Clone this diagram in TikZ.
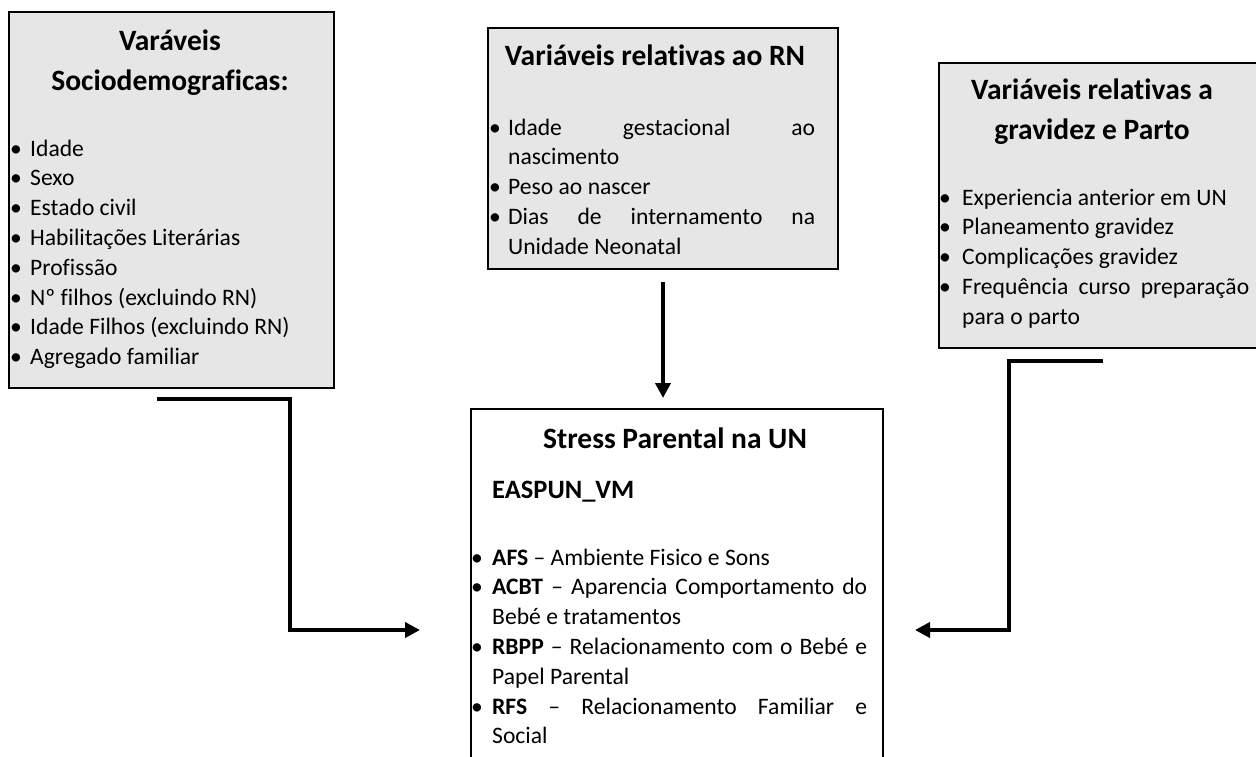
\documentclass[tikz,border=0pt]{standalone}
\usepackage{fontspec}
\setmainfont{Carlito}[Ligatures=NoCommon]
\usepackage{enumitem}
\usetikzlibrary{arrows.meta}
\definecolor{boxgray}{RGB}{230,230,230}
\hyphenpenalty=10000
\exhyphenpenalty=10000
\tolerance=9999
\setlist[itemize]{label=\textbullet, leftmargin=20pt, labelwidth=20pt, labelsep=0pt, align=left, nosep}
\tikzset{
  box/.style     = { draw, line width=2pt, anchor=north west, inner sep=0pt },
  shaded/.style  = { box, fill=boxgray },
  heading/.style = { font=\fontsize{29.5}{40}\selectfont\bfseries, align=center, inner sep=0pt },
  items/.style   = { font=\fontsize{23.6}{29.8}\selectfont, anchor=north west, inner sep=0pt,
                     align=justify, text width=#1 }
}
\tikzset{flow/.style = { line width=4pt, -{Triangle[length=15pt,width=15pt]} }}

\begin{document}
\begin{tikzpicture}[x=1pt,y=-1pt]
    \useasboundingbox (0,0) rectangle (1256,756);

    % boxes
    \node[shaded, minimum width=325pt, minimum height=376pt] (socio) at (8,11)   {};
    \node[shaded, minimum width=350pt, minimum height=241pt] (rn)    at (487,27) {};
    \node[shaded, minimum width=322pt, minimum height=285pt] (parto) at (938,62) {};
    \node[box,    minimum width=412pt, minimum height=362pt] (stress) at (470,408) {};

    % headings
    \node[heading] (sociohead)  at (170,63)  {Varáveis\\Sociodemograficas:};
    \node[heading] (rnhead)     at (655,55)  {Variáveis relativas ao RN};
    \node[heading] (partohead)  at (1092,112) {Variáveis relativas a\\gravidez e Parto};
    \node[heading] (stresshead) at (675,438) {Stress Parental na UN};
    \node[heading, font=\fontsize{26.5}{40}\selectfont\bfseries, anchor=west] (scale) at (492,492) {EASPUN\_VM};

    % lists
    \node[items=314pt] (sociolist) at (10,126) {
      \begin{itemize}
        \item Idade
        \item Sexo
        \item Estado civil
        \item Habilitações Literárias
        \item Profissão
        \item Nº filhos (excluindo RN)
        \item Idade Filhos (excluindo RN)
        \item Agregado familiar
      \end{itemize}};
    \node[items=326pt] (rnlist) at (489,105) {
      \begin{itemize}[leftmargin=19pt, labelwidth=19pt]
        \item Idade gestacional ao\linebreak nascimento
        \item Peso ao nascer
        \item Dias de internamento na Unidade Neonatal
      \end{itemize}};
    \node[items=310pt] (partolist) at (939,175) {
      \begin{itemize}[leftmargin=23pt, labelwidth=23pt]
        \item Experiencia anterior em UN
        \item Planeamento gravidez
        \item Complicações gravidez
        \item Frequência curso preparação para o parto
      \end{itemize}};
    \node[items=396pt] (stresslist) at (471,535) {
      \begin{itemize}[leftmargin=21pt, labelwidth=21pt]
        \item \textbf{AFS} – Ambiente Fisico e Sons
        \item \textbf{ACBT} – Aparencia Comportamento do Bebé e tratamentos
        \item \textbf{RBPP} – Relacionamento com o Bebé e Papel Parental
        \item \textbf{RFS} – Relacionamento Familiar e\linebreak Social
      \end{itemize}};

    % connectors
    \coordinate (sociofoot) at (157,399);
    \coordinate (sociodown) at (290,630);
    \coordinate (stresswest) at (420,630);
    \coordinate (rnfoot)    at (663,282);
    \coordinate (stresstop) at (663,398);
    \coordinate (partofoot) at (1103,361);
    \coordinate (partodown) at (1009,630);
    \coordinate (stresseast) at (915,630);

    \draw[flow] (sociofoot) -| (sociodown) -- (stresswest);
    \draw[flow] (rnfoot) -- (stresstop);
    \draw[flow] (partofoot) -| (partodown) -- (stresseast);
\end{tikzpicture}
\end{document}
